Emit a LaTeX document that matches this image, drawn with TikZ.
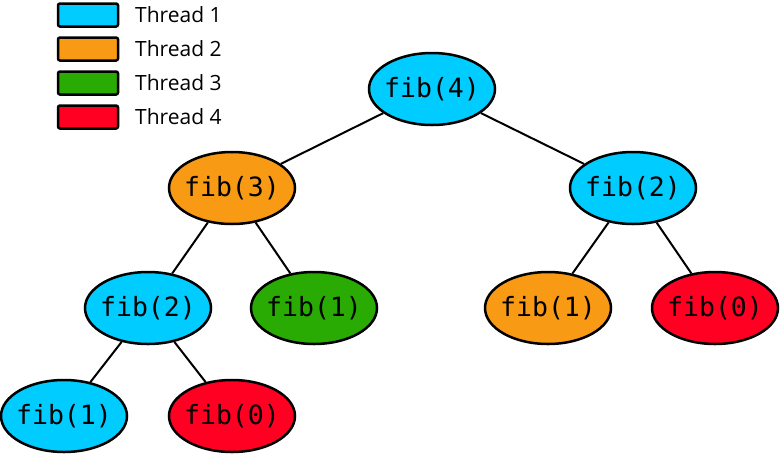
\documentclass[tikz,border=0pt]{standalone}
\usepackage{fontspec}
\setmainfont{Open Sans}
\newfontfamily\fibfont{DejaVu Sans Mono}
\usetikzlibrary{shapes.geometric}
\definecolor{tone}{HTML}{00CCFF}
\definecolor{ttwo}{HTML}{F99A14}
\definecolor{tthree}{HTML}{29AB04}
\definecolor{tfour}{HTML}{FF0022}
\newcommand\fibtxt[1]{\makebox[0pt]{#1}}
\tikzset{
  fib/.style={ellipse, draw=black, line width=2.5pt, minimum width=126pt, minimum height=72pt, inner sep=0pt, font=\fibfont\fontsize{26.5}{26}\selectfont},
  legbox/.style={draw=black, line width=2.5pt, rounded corners=2pt, minimum width=60pt, minimum height=23pt, inner sep=0pt},
  legtext/.style={anchor=west, inner sep=0pt, font=\fontsize{21}{21}\selectfont},
  edge/.style={line width=2pt}
}
\begin{document}
\begin{tikzpicture}[x=1pt,y=-1pt]
\useasboundingbox (0,0) rectangle (781,461);
% legend
\node[legbox, fill=tone] (l1) at (88,15) {};
\node[legbox, fill=ttwo] (l2) at (88,49) {};
\node[legbox, fill=tthree] (l3) at (88,83) {};
\node[legbox, fill=tfour] (l4) at (88,117) {};
\node[legtext] (t1) at (135,15) {Thread 1};
\node[legtext] (t2) at (135,49) {Thread 2};
\node[legtext] (t3) at (135,83) {Thread 3};
\node[legtext] (t4) at (135,117) {Thread 4};
% tree
\node[fib, fill=tone] (n4) at (432,89) {\fibtxt{fib(4)}};
\node[fib, fill=ttwo] (n3) at (232,188) {\fibtxt{fib(3)}};
\node[fib, fill=tone] (n2r) at (633,188) {\fibtxt{fib(2)}};
\node[fib, fill=tone] (n2l) at (148,308) {\fibtxt{fib(2)}};
\node[fib, fill=tthree] (n1g) at (314,308) {\fibtxt{fib(1)}};
\node[fib, fill=ttwo] (n1o) at (548,308) {\fibtxt{fib(1)}};
\node[fib, fill=tfour] (n0r) at (715,308) {\fibtxt{fib(0)}};
\node[fib, fill=tone] (n1b) at (64,416) {\fibtxt{fib(1)}};
\node[fib, fill=tfour] (n0b) at (232,416) {\fibtxt{fib(0)}};
\draw[edge] (n4) -- (n3);
\draw[edge] (n4) -- (n2r);
\draw[edge] (n3) -- (n2l);
\draw[edge] (n3) -- (n1g);
\draw[edge] (n2r) -- (n1o);
\draw[edge] (n2r) -- (n0r);
\draw[edge] (n2l) -- (n1b);
\draw[edge] (n2l) -- (n0b);
\end{tikzpicture}
\end{document}
